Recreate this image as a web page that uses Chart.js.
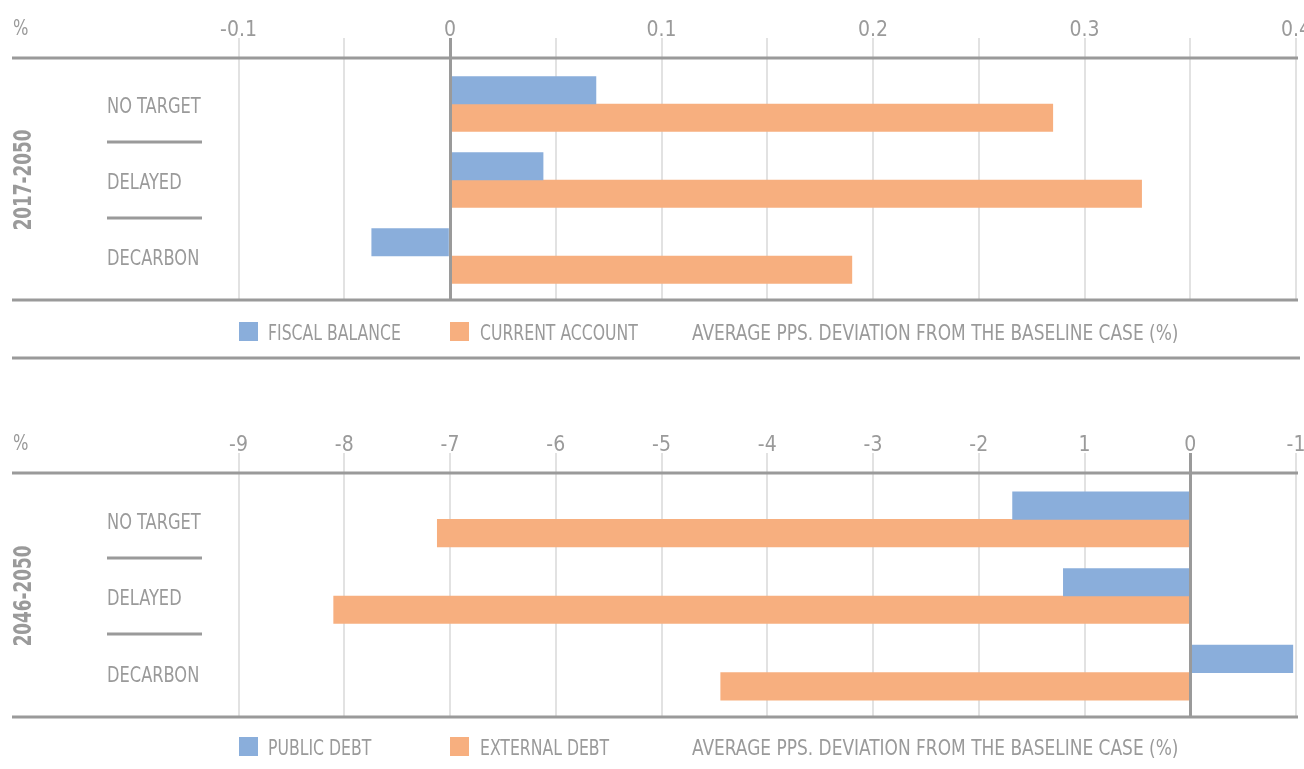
<!DOCTYPE html>
<html>
<head>
  <title>Average pps. deviation from the baseline case</title>
  <script src="https://cdn.jsdelivr.net/npm/chart.js"></script>
  <style>
    body { margin: 0; background: #fff; }
    canvas { display: block; }
  </style>
</head>
<body>
  <canvas id="topChart" width="1304" height="415"></canvas>
  <canvas id="bottomChart" width="1304" height="354"></canvas>

  <script>
    const categories = ['NO TARGET', 'DELAYED', 'DECARBON'];

    // 2017-2050 panel
    const fiscalBalance = [0.069, 0.044, -0.037];
    const currentAccount = [0.285, 0.327, 0.19];
    const topTicks = [-0.1, -0.05, 0, 0.05, 0.1, 0.15, 0.2, 0.25, 0.3, 0.35, 0.4];
    const topTickLabels = ['-0.1', '', '0', '', '0.1', '', '0.2', '', '0.3', '', '0.4'];

    // 2046-2050 panel
    const publicDebt = [-1.68, -1.2, 0.97];
    const externalDebt = [-7.12, -8.1, -4.44];
    const bottomTicks = [-9, -8, -7, -6, -5, -4, -3, -2, -1, 0, 1];
    const bottomTickLabels = ['-9', '-8', '-7', '-6', '-5', '-4', '-3', '-2', '1', '0', '-1'];

    const axisTitle = 'AVERAGE PPS. DEVIATION FROM THE BASELINE CASE (%)';

    const BLUE = '#8aaedb';
    const ORANGE = '#f7af7f';
    const GREY = '#9a9a9a';
    const GRID = '#e2e2e2';
    const FONT = "'DejaVu Sans Condensed', sans-serif";

    // narrow text: the original uses a condensed face
    function text(ctx, str, x, y, sx) {
      ctx.save();
      ctx.translate(x, y);
      ctx.scale(sx, 1);
      ctx.fillText(str, 0, 0);
      ctx.restore();
    }

    function decor(period, names) {
      return {
        id: 'decor',
        afterDatasetsDraw(chart) {
          const ctx = chart.ctx;
          const area = chart.chartArea;
          const xs = chart.scales.x;
          const ys = chart.scales.y;
          ctx.save();
          ctx.strokeStyle = GREY;
          ctx.lineWidth = 3;

          const hline = (y, x1, x2) => {
            ctx.beginPath(); ctx.moveTo(x1, y); ctx.lineTo(x2, y); ctx.stroke();
          };

          // zero line on top of the bars
          const x0 = Math.round(xs.getPixelForValue(0)) + 0.5;
          ctx.beginPath(); ctx.moveTo(x0, area.top - 20); ctx.lineTo(x0, area.bottom); ctx.stroke();

          hline(area.top, 12, 1298);
          hline(area.bottom, 12, 1298);
          if (chart.height > 380) hline(358, 12, 1300);

          // separators between categories
          for (let i = 0; i < categories.length - 1; i++) {
            const yy = Math.round((ys.getPixelForValue(i) + ys.getPixelForValue(i + 1)) / 2);
            hline(yy, 107, 202);
          }

          ctx.fillStyle = GREY;
          ctx.font = '21px ' + FONT;
          ctx.textBaseline = 'middle';
          ctx.textAlign = 'left';
          categories.forEach((c, i) => text(ctx, c, 107, ys.getPixelForValue(i) + 4, 0.86));
          text(ctx, '%', 13, 30, 0.86);

          // legend
          const ly = 332;
          ctx.fillStyle = BLUE; ctx.fillRect(239, ly - 10, 19, 19);
          ctx.fillStyle = ORANGE; ctx.fillRect(450, ly - 10, 19, 19);
          ctx.fillStyle = GREY;
          text(ctx, names[0], 268, ly + 3, 0.83);
          text(ctx, names[1], 480, ly + 3, 0.83);
          text(ctx, axisTitle, 692, ly + 3, 0.9);

          // period label
          ctx.translate(24, ys.getPixelForValue(1));
          ctx.rotate(-Math.PI / 2);
          ctx.scale(0.78, 1);
          ctx.textAlign = 'center';
          ctx.font = 'bold 24px ' + FONT;
          ctx.fillText(period, 0, 1);
          ctx.restore();
        }
      };
    }

    function makePanel(id, first, second, names, min, max, ticks, tickLabels, period, bottomPad) {
      const ctx = document.getElementById(id).getContext('2d');
      new Chart(ctx, {
        type: 'bar',
        data: {
          datasets: [
            { label: names[0], data: first.map((v, i) => ({ x: v, y: i })), backgroundColor: BLUE },
            { label: names[1], data: second.map((v, i) => ({ x: v, y: i })), backgroundColor: ORANGE }
          ]
        },
        options: {
          indexAxis: 'y',
          responsive: false,
          animation: false,
          barThickness: 27.5,
          layout: { padding: { left: 27, right: 8, top: 0, bottom: bottomPad } },
          plugins: { legend: { display: false }, tooltip: { enabled: false } },
          scales: {
            x: {
              position: 'top',
              min: min,
              max: max,
              afterBuildTicks: scale => { scale.ticks = ticks.map(v => ({ value: v })); },
              afterFit: scale => { scale.height = 58; scale.paddingLeft = 0; scale.paddingRight = 0; },
              border: { display: false },
              grid: {
                color: c => c.tick && c.tick.value === 0 ? GREY : GRID,
                lineWidth: c => c.tick && c.tick.value === 0 ? 3 : 2,
                tickLength: 20
              },
              ticks: {
                autoSkip: false,
                maxRotation: 0,
                padding: -5,
                color: GREY,
                font: { family: FONT, size: 21 },
                callback: (v, i) => tickLabels[i]
              }
            },
            y: {
              type: 'linear',
              display: false,
              reverse: true,
              offset: false,
              min: -0.605,
              max: 2.579,
              grid: { display: false }
            }
          }
        },
        plugins: [decor(period, names)]
      });
    }

    makePanel('topChart', fiscalBalance, currentAccount, ['FISCAL BALANCE', 'CURRENT ACCOUNT'],
      -0.2, 0.4, topTicks, topTickLabels, '2017-2050', 115);
    makePanel('bottomChart', publicDebt, externalDebt, ['PUBLIC DEBT', 'EXTERNAL DEBT'],
      -11, 1, bottomTicks, bottomTickLabels, '2046-2050', 52);
  </script>
</body>
</html>
